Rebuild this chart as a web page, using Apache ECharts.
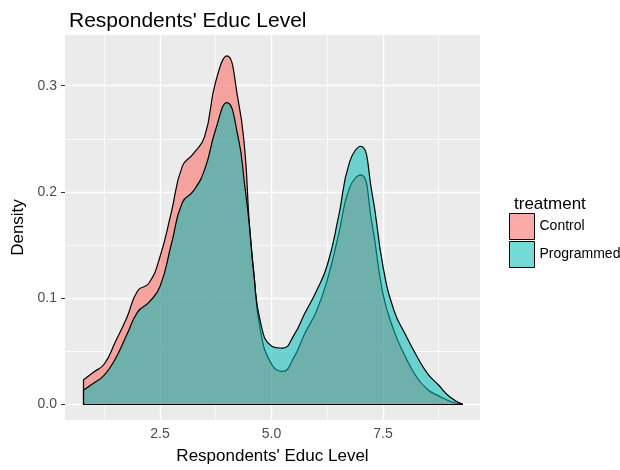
<!DOCTYPE html>
<html>
<head>
<meta charset="utf-8">
<script src="https://cdn.jsdelivr.net/npm/echarts@6/dist/echarts.min.js"></script>
<style>
  html, body { margin: 0; padding: 0; background: #fff; }
  #main { width: 620px; height: 470px; }
</style>
</head>
<body>
<div id="main"></div>
<script>
// educ level grid and the two density curves
var educLevel = [0.78, 1.0, 1.25, 1.5, 1.75, 2.0, 2.25, 2.5, 2.75, 3.0, 3.25, 3.5, 3.75, 4.0, 4.25, 4.4, 4.5, 4.6, 4.75, 5.0,
    5.25, 5.5, 5.75, 6.0, 6.25, 6.5, 6.75, 7.0, 7.25, 7.5, 7.75, 8.0, 8.25, 8.5, 8.75, 9.0, 9.29];
var controlDensity = [0.023, 0.030, 0.038, 0.059, 0.081, 0.107, 0.114, 0.139, 0.180, 0.224, 0.236, 0.252, 0.304, 0.328, 0.287, 0.240, 0.172, 0.126, 0.070, 0.038,
    0.031, 0.044, 0.067, 0.087, 0.117, 0.159, 0.204, 0.216, 0.171, 0.104, 0.069, 0.045, 0.026, 0.014, 0.008, 0.003, 0.0];
var programmedDensity = [0.0134, 0.0197, 0.0275, 0.043, 0.065, 0.087, 0.096, 0.111, 0.150, 0.190, 0.201, 0.221, 0.259, 0.284, 0.252, 0.206, 0.170, 0.124, 0.078, 0.055,
    0.053, 0.065, 0.086, 0.106, 0.131, 0.176, 0.228, 0.243, 0.200, 0.130, 0.088, 0.066, 0.046, 0.029, 0.018, 0.007, 0.0];

var xMajor = [2.5, 5.0, 7.5];
var xMinor = [1.25, 3.75, 6.25, 8.75];
var yMajor = [0.0, 0.1, 0.2, 0.3];
var yMinor = [0.05, 0.15, 0.25];

var controlFill = 'rgba(248,118,109,0.62)';
var programmedFill = 'rgba(0,188,184,0.55)';

function pairs(ys) {
    return educLevel.map(function (x, i) { return [x, ys[i]]; });
}

// left edge + baseline of the density polygon, like ggplot draws it
function outline(ys) {
    var x0 = educLevel[0], x1 = educLevel[educLevel.length - 1];
    return {
        silent: true,
        symbol: ['none', 'none'],
        label: { show: false },
        lineStyle: { color: '#000', width: 1.2, type: 'solid' },
        data: [
            [{ coord: [x0, 0] }, { coord: [x0, ys[0]] }],
            [{ coord: [x0, 0] }, { coord: [x1, 0] }]
        ]
    };
}

var gridLines = [];
xMinor.forEach(function (v) { gridLines.push({ xAxis: v, lineStyle: { width: 0.7 } }); });
yMinor.forEach(function (v) { gridLines.push({ yAxis: v, lineStyle: { width: 0.7 } }); });
xMajor.forEach(function (v) { gridLines.push({ xAxis: v, lineStyle: { width: 1.4 } }); });
yMajor.forEach(function (v) { gridLines.push({ yAxis: v, lineStyle: { width: 1.4 } }); });

var chart = echarts.init(document.getElementById('main'), null, { renderer: 'canvas' });

var option = {
    animation: false,
    textStyle: { fontFamily: 'Liberation Sans, Arial, sans-serif' },
    title: [
        {
            text: "Respondents' Educ Level",
            left: 64, top: 6,
            textStyle: { fontSize: 21, fontWeight: 'normal', color: '#000' }
        },
        {
            text: 'treatment',
            left: 509, top: 191,
            textStyle: { fontSize: 17, fontWeight: 'normal', color: '#000' }
        }
    ],
    legend: {
        orient: 'vertical',
        left: 509, top: 213,
        padding: 0,
        itemWidth: 25, itemHeight: 26, itemGap: 1,
        icon: 'rect',
        textStyle: { fontSize: 14, color: '#000' },
        data: [
            { name: 'Control', itemStyle: { color: controlFill, borderColor: '#000', borderWidth: 1 } },
            { name: 'Programmed', itemStyle: { color: programmedFill, borderColor: '#000', borderWidth: 1 } }
        ]
    },
    grid: {
        left: 65, right: 140, top: 35, bottom: 48,
        show: true, backgroundColor: '#EBEBEB', borderWidth: 0
    },
    xAxis: {
        type: 'value',
        min: 0.37, max: 9.675,
        name: "Respondents' Educ Level",
        nameLocation: 'middle', nameGap: 28,
        nameTextStyle: { fontSize: 17, color: '#000' },
        axisLine: { show: false },
        axisTick: { show: true, length: 4, customValues: xMajor, lineStyle: { color: '#333' } },
        axisLabel: {
            customValues: xMajor, margin: 7, fontSize: 14, color: '#4D4D4D',
            formatter: function (v) { return v.toFixed(1); }
        },
        splitLine: { show: false }
    },
    yAxis: {
        type: 'value',
        min: -0.0147, max: 0.3477,
        name: 'Density',
        nameLocation: 'middle', nameGap: 36,
        nameTextStyle: { fontSize: 17, color: '#000' },
        axisLine: { show: false },
        axisTick: { show: true, length: 4, customValues: yMajor, lineStyle: { color: '#333' } },
        axisLabel: {
            customValues: yMajor, margin: 8, fontSize: 14, color: '#4D4D4D',
            formatter: function (v) { return v.toFixed(1); }
        },
        splitLine: { show: false }
    },
    series: [
        {
            // background grid, kept under the densities
            type: 'line', z: 1, silent: true, data: [],
            markLine: {
                z: 1,
                silent: true, symbol: ['none', 'none'], label: { show: false },
                lineStyle: { color: '#fff', type: 'solid' },
                data: gridLines
            }
        },
        {
            name: 'Control', type: 'line', z: 2,
            smooth: 0.5, showSymbol: false,
            data: pairs(controlDensity),
            lineStyle: { color: '#000', width: 1.2 },
            itemStyle: { color: controlFill },
            areaStyle: { color: controlFill, opacity: 1 },
            markLine: outline(controlDensity)
        },
        {
            name: 'Programmed', type: 'line', z: 3,
            smooth: 0.5, showSymbol: false,
            data: pairs(programmedDensity),
            lineStyle: { color: '#000', width: 1.2 },
            itemStyle: { color: programmedFill },
            areaStyle: { color: programmedFill, opacity: 1 },
            markLine: outline(programmedDensity)
        }
    ]
};
chart.setOption(option);
</script>
</body>
</html>
